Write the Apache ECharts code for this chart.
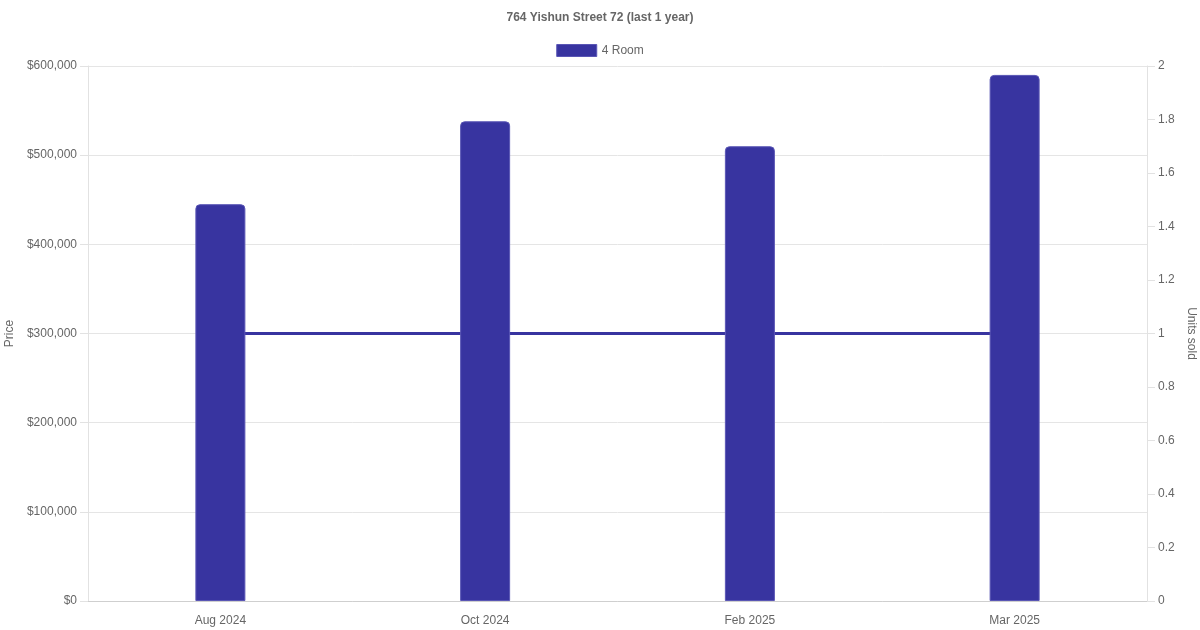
<!DOCTYPE html>
<html>
<head>
<meta charset="utf-8">
<title>764 Yishun Street 72</title>
<script src="https://cdn.jsdelivr.net/npm/echarts@6/dist/echarts.min.js"></script>
<style>
  html, body { margin: 0; padding: 0; background: #fff; }
  #chart { width: 1200px; height: 630px; }
</style>
</head>
<body>
<div id="chart"></div>
<script>
// data
var months = ['Aug 2024', 'Oct 2024', 'Feb 2025', 'Mar 2025'];
var prices = [445000, 538000, 510000, 590000];
var unitsSold = [1, 1, 1, 1];

var barColor = '#3834a0';
var textColor = '#666';
var fontName = '"Liberation Sans", Arial, sans-serif';

var chart = echarts.init(document.getElementById('chart'));

var option = {
    animation: false,
    textStyle: { fontFamily: fontName },
    title: {
        text: '764 Yishun Street 72 (last 1 year)',
        left: 'center',
        top: 7,
        textStyle: { color: textColor, fontSize: 12, fontWeight: 'bold', fontFamily: fontName }
    },
    legend: {
        top: 39,
        left: 'center',
        itemWidth: 40,
        itemHeight: 12,
        itemGap: 10,
        textStyle: { color: textColor, fontSize: 12, fontFamily: fontName },
        data: [{
            name: '4 Room',
            icon: 'rect',
            itemStyle: { color: barColor, borderColor: '#5a56b5', borderWidth: 1 }
        }]
    },
    grid: { left: 88, right: 53, top: 66, bottom: 29, containLabel: false, outerBoundsMode: 'none' },
    xAxis: {
        type: 'category',
        data: months,
        boundaryGap: true,
        axisLine: { show: true, lineStyle: { color: '#cfcfcf' } },
        axisTick: { show: false },
        axisLabel: { color: textColor, fontSize: 12, margin: 14, fontFamily: fontName },
        splitLine: { show: false }
    },
    yAxis: [{
        type: 'value',
        name: 'Price',
        nameLocation: 'middle',
        nameGap: 68,
        nameRotate: 90,
        nameTextStyle: { color: textColor, fontSize: 12, fontFamily: fontName },
        min: 0,
        max: 600000,
        interval: 100000,
        axisLine: { show: true, lineStyle: { color: '#e2e2e2' } },
        axisTick: { show: true, length: 8, lineStyle: { color: '#e2e2e2' } },
        axisLabel: {
            color: textColor,
            fontSize: 12,
            margin: 11,
            fontFamily: fontName,
            formatter: function (v) { return '$' + v.toLocaleString('en-US'); }
        },
        splitLine: { show: true, lineStyle: { color: '#e5e5e5' } }
    }, {
        type: 'value',
        name: 'Units sold',
        nameLocation: 'middle',
        nameGap: 31,
        nameRotate: -90,
        nameTextStyle: { color: textColor, fontSize: 12, fontFamily: fontName },
        position: 'right',
        min: 0,
        max: 2,
        interval: 0.2,
        axisLine: { show: true, lineStyle: { color: '#e2e2e2' } },
        axisTick: { show: true, length: 8, lineStyle: { color: '#e2e2e2' } },
        axisLabel: {
            color: textColor,
            fontSize: 12,
            margin: 11,
            fontFamily: fontName,
            formatter: function (v) { return String(Math.round(v * 10) / 10); }
        },
        splitLine: { show: false }
    }],
    series: [{
        name: 'Units sold',
        type: 'line',
        yAxisIndex: 1,
        data: unitsSold,
        showSymbol: false,
        symbol: 'none',
        z: 1,
        lineStyle: { color: barColor, width: 3 },
        itemStyle: { color: barColor }
    }, {
        name: '4 Room',
        type: 'bar',
        yAxisIndex: 0,
        data: prices,
        barWidth: 50,
        z: 3,
        itemStyle: {
            color: barColor,
            borderColor: '#5a56b5',
            borderWidth: 1,
            borderRadius: [4, 4, 0, 0]
        }
    }]
};

chart.setOption(option);
</script>
</body>
</html>
